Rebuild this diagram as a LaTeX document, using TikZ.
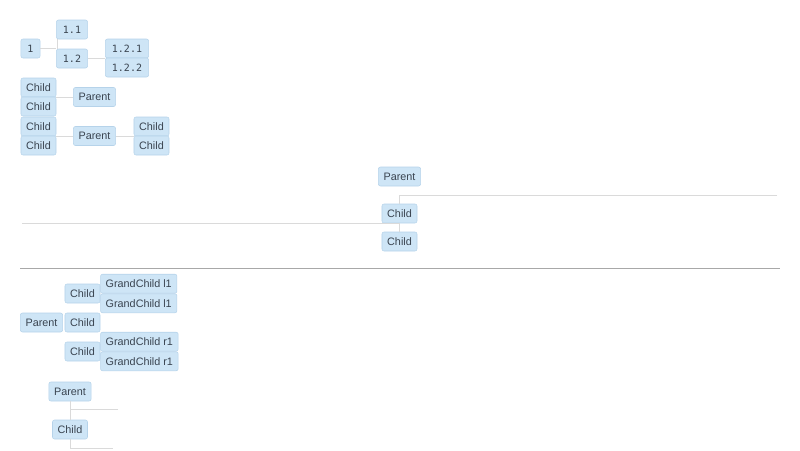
\documentclass[tikz,border=0pt]{standalone}
\usepackage{fontspec}
\setsansfont{Liberation Sans}
\setmonofont{DejaVu Sans Mono}
\definecolor{boxfill}{RGB}{206,229,246}
\definecolor{boxline}{RGB}{182,211,234}
\definecolor{boxtext}{RGB}{58,68,80}
\definecolor{linkgray}{RGB}{218,218,218}
\definecolor{rulegray}{RGB}{168,168,168}
\begin{document}
\begin{tikzpicture}[x=0.75pt,y=-0.75pt,
    box/.style={draw=boxline,fill=boxfill,rounded corners=1.5pt,text=boxtext,font=\sffamily\fontsize{8.1}{10}\selectfont,
      minimum height=14.25pt,inner ysep=0pt,inner xsep=3.9pt},
    numbox/.style={box,font=\ttfamily\fontsize{7.5}{8}\selectfont,inner xsep=4.9pt},
    link/.style={draw=linkgray,line width=0.75pt}]
    \useasboundingbox (0,0) rectangle (800,450);
    \node[numbox] (n1) at (30.5,48.5) {1};
    \node[numbox] (n11) at (72,29.5) {1.1};
    \node[numbox] (n12) at (72,58.5) {1.2};
    \node[numbox] (n121) at (127,48.5) {1.2.1};
    \node[numbox] (n122) at (127,67.5) {1.2.2};
    \draw[link] (n1.east) -- (n1.east -| n11.west);
    \draw[link] ([xshift=1]n11.south west) -- ([xshift=1]n12.north west);
    \draw[link] (n12.east) -- (n12.east -| n121.west);
    \node[box] (ca) at (38.5,87.5) {Child};
    \node[box] (cb) at (38.5,106.5) {Child};
    \node[box] (pa) at (94.5,97) {Parent};
    \draw[link] (pa.west) -- (pa.west -| ca.east);
    \node[box] (cc) at (38.5,126.5) {Child};
    \node[box] (cd) at (38.5,145.5) {Child};
    \node[box] (pb) at (94.5,136) {Parent};
    \node[box] (ce) at (151.5,126.5) {Child};
    \node[box] (cf) at (151.5,145.5) {Child};
    \draw[link] (pb.west) -- (pb.west -| cc.east);
    \draw[link] (pb.east) -- (pb.east -| ce.west);
    \node[box] (pc) at (399.5,176.5) {Parent};
    \node[box] (cg) at (399.5,213.5) {Child};
    \node[box] (ch) at (399.5,241.5) {Child};
    \coordinate (rightend) at (777,195);
    \coordinate (leftend) at (22,223);
    \draw[link] (rightend) -| (cg.north);
    \draw[link] (leftend) -| (ch.north);
    \draw[draw=rulegray,line width=0.75pt] (20,268) -- (780,268);
    \node[box] (pd) at (41.5,322.5) {Parent};
    \node[box] (ci) at (82.5,293.5) {Child};
    \node[box] (cj) at (82.5,322.5) {Child};
    \node[box] (ck) at (82.5,351.5) {Child};
    \node[box,anchor=south west] (ga) at (ci.east) {GrandChild l1};
    \node[box,anchor=north west] (gb) at (ci.east) {GrandChild l1};
    \node[box,anchor=south west] (gc) at (ck.east) {GrandChild r1};
    \node[box,anchor=north west] (gd) at (ck.east) {GrandChild r1};
    \node[box] (pe) at (70,391.5) {Parent};
    \node[box] (cl) at (70,429.5) {Child};
    \coordinate (stuba) at (118,409.5);
    \coordinate (stubb) at (113,448);
    \draw[link] (pe.south) -- (cl.north);
    \draw[link] (stuba) -- (stuba -| pe.south);
    \draw[link] (cl.south) |- (stubb);
\end{tikzpicture}
\end{document}
